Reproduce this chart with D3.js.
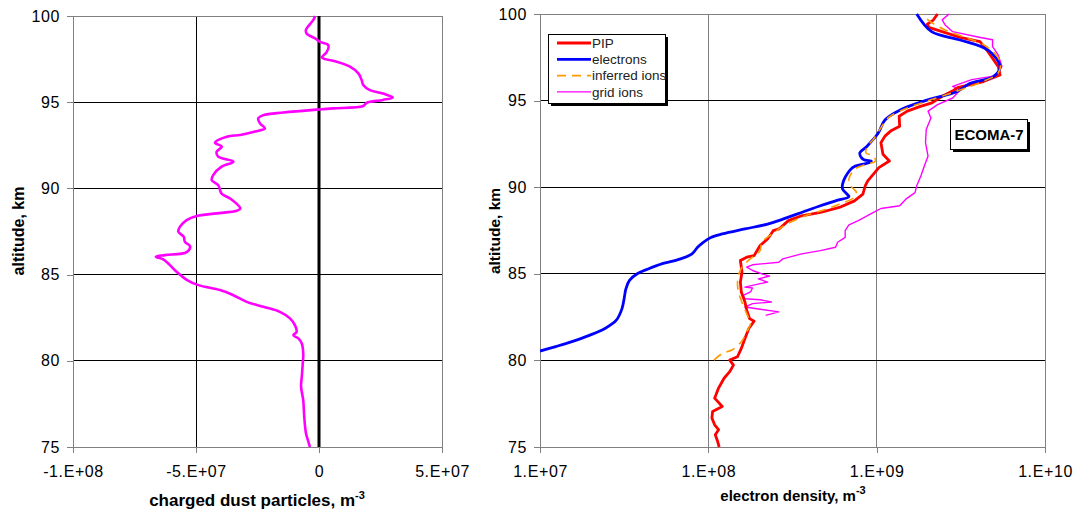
<!DOCTYPE html>
<html><head><meta charset="utf-8">
<script src="https://cdn.jsdelivr.net/npm/d3@7/dist/d3.min.js"></script>
<style>
html,body{margin:0;padding:0;background:#fff;}
svg{display:block;font-family:"Liberation Sans",Arial,sans-serif;}
</style></head>
<body><svg id="c" width="1073" height="513"></svg>
<script>
// ---------- DATA ----------
// Left panel: charged dust particles [altitude km, density m^-3]
const dust = [[100,-0.16e7],[99.77,-0.23e7],[99.2,-0.53e7],[98.97,-0.5e7],[98.7,-0.16e7],[98.5,0.04e7],[98.3,0.38e7],[97.9,0.31e7],[97.6,0.11e7],[97.5,0.25e7],[97.35,0.72e7],[97.06,1.26e7],[96.67,1.6e7],[96.3,1.73e7],[96.0,1.8e7],[95.7,2.07e7],[95.5,2.6e7],[95.28,3.0e7],[95.13,2.6e7],[94.97,1.94e7],[94.78,1.8e7],[94.64,0.58e7],[94.58,0],[94.4,-1.45e7],[94.25,-2.26e7],[94.06,-2.47e7],[93.77,-2.4e7],[93.48,-2.2e7],[93.3,-2.6e7],[93.1,-3.2e7],[93.0,-3.75e7],[92.65,-4.23e7],[92.42,-3.95e7],[92.13,-4.16e7],[91.84,-4.1e7],[91.55,-3.48e7],[91.26,-3.96e7],[90.77,-4.3e7],[90.48,-4.36e7],[90.2,-4.1e7],[89.7,-3.96e7],[89.4,-3.6e7],[88.84,-3.2e7],[88.7,-3.35e7],[88.55,-4.16e7],[88.4,-4.97e7],[88.16,-5.38e7],[87.78,-5.65e7],[87.49,-5.72e7],[87.2,-5.5e7],[86.9,-5.45e7],[86.65,-5.24e7],[86.3,-5.38e7],[86.13,-6.26e7],[86.04,-6.63e7],[85.88,-6.33e7],[85.55,-6.06e7],[85.16,-5.79e7],[84.7,-5.38e7],[84.39,-4.9e7],[84.1,-4.02e7],[83.8,-3.48e7],[83.42,-2.94e7],[83.13,-2.26e7],[82.84,-1.59e7],[82.46,-1.18e7],[82.07,-0.98e7],[81.68,-0.91e7],[81.49,-1.04e7],[81.3,-0.84e7],[81.0,-0.7e7],[80.4,-0.64e7],[79.85,-0.66e7],[79.07,-0.7e7],[78.5,-0.73e7],[77.7,-0.64e7],[76.75,-0.6e7],[75.8,-0.53e7],[75.3,-0.43e7],[75.0,-0.37e7]];

// Right panel: [altitude km, density m^-3]
const pip = [[75,1.16e8],[75.33,1.135e8],[75.71,1.10e8],[76.0,1.15e8],[76.28,1.09e8],[76.67,1.05e8],[77.05,1.06e8],[77.34,1.21e8],[77.82,1.09e8],[78.4,1.15e8],[78.97,1.24e8],[79.35,1.34e8],[79.73,1.41e8],[80.02,1.34e8],[80.21,1.49e8],[80.69,1.57e8],[81.26,1.65e8],[81.84,1.74e8],[82.26,1.87e8],[82.41,1.76e8],[82.89,1.69e8],[83.37,1.65e8],[83.95,1.57e8],[84.52,1.55e8],[85.1,1.585e8],[85.77,1.55e8],[85.96,1.69e8],[86.05,1.87e8],[86.63,2.03e8],[87.01,2.25e8],[87.49,2.43e8],[87.59,2.63e8],[88.07,2.99e8],[88.35,3.58e8],[88.54,4.63e8],[88.83,6.0e8],[89.21,7.38e8],[89.6,8.28e8],[90.08,8.55e8],[90.36,8.85e8],[90.75,9.57e8],[91.13,1.03e9],[91.51,1.19e9],[91.9,1.09e9],[92.57,1.06e9],[92.95,1.12e9],[93.24,1.21e9],[93.52,1.37e9],[94.1,1.36e9],[94.39,1.52e9],[94.67,1.82e9],[94.87,2.13e9],[95.25,2.45e9],[95.55,2.82e9],[95.75,3.02e9],[96.1,4.31e9],[96.48,5.41e9],[96.96,5.28e9],[97.92,4.51e9],[98.4,4.11e9],[98.65,3.13e9],[99.23,2.04e9],[99.42,2.0e9],[99.65,2.17e9],[100,2.30e9]];

const electrons = [[80.54,1.0e7],[80.8,1.24e7],[81.07,1.53e7],[81.46,1.98e7],[81.84,2.43e7],[82.32,2.84e7],[82.99,3.07e7],[83.56,3.16e7],[84.14,3.24e7],[84.62,3.40e7],[85.0,3.78e7],[85.29,4.42e7],[85.57,5.28e7],[85.86,6.84e7],[86.15,8.0e7],[86.53,8.63e7],[86.82,9.33e7],[87.1,1.035e8],[87.3,1.21e8],[87.59,1.65e8],[87.87,2.25e8],[88.16,2.77e8],[88.54,3.58e8],[88.93,4.63e8],[89.21,5.70e8],[89.46,6.84e8],[89.6,6.67e8],[89.89,6.27e8],[90.17,6.27e8],[90.56,6.49e8],[91.13,7.19e8],[91.32,8.18e8],[91.42,9.08e8],[91.5,9.3e8],[91.6,8.32e8],[91.97,7.94e8],[92.34,8.71e8],[93.11,1.02e9],[93.88,1.12e9],[94.46,1.38e9],[95.03,1.99e9],[95.51,2.99e9],[96.0,3.59e9],[96.38,4.93e9],[96.96,5.41e9],[97.9,4.61e9],[98.5,3.13e9],[98.98,2.12e9],[100,1.73e9]];

const inferredIons = [[80.02,1.08e8],[80.4,1.21e8],[80.6,1.38e8],[81.07,1.57e8],[81.65,1.69e8],[82.13,1.78e8],[82.7,1.69e8],[83.18,1.61e8],[83.85,1.52e8],[84.43,1.49e8],[85.0,1.52e8],[85.48,1.61e8],[85.96,1.83e8],[86.34,2.03e8],[86.82,2.08e8],[87.2,2.31e8],[87.59,2.63e8],[87.97,3.07e8],[88.35,3.77e8],[88.7,4.89e8],[89.02,6.0e8],[89.41,7.38e8],[89.69,7.59e8],[90.08,7.01e8],[90.46,6.84e8],[91.03,7.38e8],[91.32,8.63e8],[91.51,9.82e8],[91.8,9.55e8],[91.99,8.63e8],[92.38,8.85e8],[92.76,9.55e8],[93.43,1.06e9],[94.0,1.17e9],[94.39,1.37e9],[94.96,1.97e9],[95.54,2.99e9],[96.02,4.06e9],[96.59,5.27e9],[97.26,5.41e9],[98.12,4.51e9],[98.6,3.48e9],[99.08,2.55e9],[99.56,2.08e9],[99.85,1.92e9],[100,1.87e9]];

const gridIons = [[82.6,2.19e8],[82.8,2.62e8],[82.95,2.03e8],[83.08,1.65e8],[83.28,1.83e8],[83.37,2.37e8],[83.5,2.03e8],[83.56,1.65e8],[83.75,1.61e8],[83.95,1.78e8],[84.18,1.83e8],[84.23,1.65e8],[84.43,2.03e8],[84.52,2.25e8],[84.71,1.98e8],[84.87,2.31e8],[85.0,2.08e8],[85.19,1.83e8],[85.38,1.69e8],[85.52,1.83e8],[85.67,2.62e8],[85.86,2.77e8],[86.15,3.58e8],[86.34,4.63e8],[86.53,5.70e8],[86.82,5.86e8],[87.1,6.50e8],[87.49,6.50e8],[87.82,6.84e8],[88.07,7.78e8],[88.54,9.57e8],[88.77,1.06e9],[88.93,1.37e9],[89.31,1.49e9],[89.69,1.69e9],[90.08,1.73e9],[90.65,1.83e9],[91.23,1.92e9],[91.8,2.02e9],[92.57,1.95e9],[93.33,1.97e9],[94.0,2.10e9],[94.39,2.02e9],[94.77,2.30e9],[95.15,2.83e9],[95.63,3.14e9],[95.82,2.83e9],[96.21,3.67e9],[96.44,5.14e9],[96.97,5.55e9],[97.64,5.27e9],[98.12,4.88e9],[98.51,4.88e9],[98.66,4.06e9],[98.98,2.83e9],[99.37,2.55e9],[99.66,2.45e9],[100,2.69e9]];

const altTicks = [75, 80, 85, 90, 95, 100];
const dustTicks = [-1e8, -5e7, 0, 5e7];
const dustTickLabels = ["-1.E+08", "-5.E+07", "0", "5.E+07"];
const densTicks = [1e7, 1e8, 1e9, 1e10];
const densTickLabels = ["1.E+07", "1.E+08", "1.E+09", "1.E+10"];
const legendNames = ["PIP", "electrons", "inferred ions", "grid ions"];

// ---------- DRAW ----------
const svg = d3.select("#c");
const FONT = "16px";

function panel(opts) {
  const g = svg.append("g");
  const {x, y} = opts;
  const [xa, xb] = x.range(), [yb, ya] = y.range();
  g.selectAll(null).data(opts.xTicks.slice(1, -1)).join("line")
    .attr("x1", d => x(d)).attr("x2", d => x(d)).attr("y1", ya).attr("y2", yb)
    .attr("stroke", opts.vgrid).attr("stroke-width", 1).attr("shape-rendering", "crispEdges");
  g.selectAll(null).data(altTicks.slice(1, -1)).join("line")
    .attr("x1", xa).attr("x2", xb).attr("y1", d => y(d)).attr("y2", d => y(d))
    .attr("stroke", "#000").attr("stroke-width", 1).attr("shape-rendering", "crispEdges");
  g.append("rect").attr("x", xa).attr("y", ya).attr("width", xb - xa).attr("height", yb - ya)
    .attr("fill", "none").attr("stroke", "#808080").attr("stroke-width", 1).attr("shape-rendering", "crispEdges");
  const ax = g.append("g").attr("transform", `translate(0,${yb})`)
    .call(d3.axisBottom(x).tickValues(opts.xTicks).tickFormat((d, i) => opts.xLabels[i]).tickSize(6).tickPadding(13));
  const ay = g.append("g").attr("transform", `translate(${xa},0)`)
    .call(d3.axisLeft(y).tickValues(altTicks).tickFormat(d3.format("d")).tickSize(6).tickPadding(6));
  [ax, ay].forEach(a => {
    a.select(".domain").remove();
    a.selectAll(".tick line").attr("stroke", "#808080").attr("shape-rendering", "crispEdges");
    a.selectAll(".tick text").attr("font-size", FONT).attr("fill", "#000")
      .attr("font-family", "'Liberation Sans',Arial,sans-serif").attr("letter-spacing", "0.6px");
  });
  ay.selectAll(".tick text").attr("dx", "-1");
  return g;
}

// Left panel
const xL = d3.scaleLinear().domain([-1e8, 5e7]).range([73, 442]);
const yL = d3.scaleLinear().domain([75, 100]).range([447, 16]);
const gL = panel({x: xL, y: yL, xTicks: dustTicks, xLabels: dustTickLabels, vgrid: "#000"});
gL.append("line").attr("x1", xL(0)).attr("x2", xL(0)).attr("y1", yL(100)).attr("y2", yL(75))
  .attr("stroke", "#000").attr("stroke-width", 3);
const lineL = d3.line().x(d => xL(d[1])).y(d => yL(d[0])).curve(d3.curveCatmullRom.alpha(0.5));
gL.append("path").datum(dust).attr("d", lineL).attr("fill", "none")
  .attr("stroke", "#FF00FF").attr("stroke-width", 2.6).attr("stroke-linejoin", "round");

// Right panel
const xR = d3.scaleLog().domain([1e7, 1e10]).range([540, 1045]);
const yR = d3.scaleLinear().domain([75, 100]).range([447, 14]);
const gR = panel({x: xR, y: yR, xTicks: densTicks, xLabels: densTickLabels, vgrid: "#808080"});
const lineLin = d3.line().x(d => xR(d[1])).y(d => yR(d[0]));
const lineSmooth = d3.line().x(d => xR(d[1])).y(d => yR(d[0])).curve(d3.curveCatmullRom.alpha(0.5));
const series = [
  {data: gridIons, color: "#FF00FF", w: 1.4, dash: null, gen: lineLin},
  {data: pip, color: "#FF0000", w: 2.8, dash: null, gen: lineLin},
  {data: electrons, color: "#0000FF", w: 2.8, dash: null, gen: lineSmooth},
  {data: inferredIons, color: "#FF9900", w: 1.6, dash: "9,6", gen: lineSmooth}
];
svg.append("clipPath").attr("id", "clipR").append("rect")
  .attr("x", 540).attr("y", 10).attr("width", 510).attr("height", 440);
series.forEach(s => {
  gR.append("path").datum(s.data).attr("d", s.gen).attr("fill", "none")
    .attr("clip-path", "url(#clipR)")
    .attr("stroke", s.color).attr("stroke-width", s.w).attr("stroke-linejoin", "round")
    .attr("stroke-dasharray", s.dash);
});

// Legend
const legColors = ["#FF0000", "#0000FF", "#FF9900", "#FF00FF"];
const legW = [2.8, 2.8, 1.6, 1.4];
const legDash = [null, null, "9,6", null];
const lg = svg.append("g");
lg.append("rect").attr("x", 551).attr("y", 37).attr("width", 117).attr("height", 69).attr("fill", "#000");
lg.append("rect").attr("x", 548.5).attr("y", 34.5).attr("width", 117).attr("height", 69)
  .attr("fill", "#fff").attr("stroke", "#000").attr("stroke-width", 1);
legendNames.forEach((n, i) => {
  const yy = 43 + i * 16.3;
  lg.append("line").attr("x1", 557).attr("x2", 591).attr("y1", yy).attr("y2", yy)
    .attr("stroke", legColors[i]).attr("stroke-width", legW[i]).attr("stroke-dasharray", legDash[i]);
  lg.append("text").attr("x", 592).attr("y", yy).attr("dy", "0.36em")
    .attr("font-size", "13.5px").attr("fill", "#222").text(n);
});

// ECOMA-7 label
const eb = svg.append("g");
eb.append("rect").attr("x", 953).attr("y", 122).attr("width", 77).attr("height", 30).attr("fill", "#000");
eb.append("rect").attr("x", 950.5).attr("y", 119.5).attr("width", 77).attr("height", 30)
  .attr("fill", "#fff").attr("stroke", "#000").attr("stroke-width", 1);
eb.append("text").attr("x", 989).attr("y", 135).attr("dy", "0.36em").attr("text-anchor", "middle")
  .attr("font-size", "15px").attr("font-weight", "bold").text("ECOMA-7");

// Axis titles
function ytitle(x, y, size) {
  svg.append("text").attr("transform", `translate(${x},${y}) rotate(-90)`)
    .attr("text-anchor", "middle").attr("font-size", size).attr("font-weight", "bold")
    .text("altitude, km");
}
ytitle(24, 231, "16px");
ytitle(500, 231, "15.5px");
function xtitle(x, y, t, size) {
  const tx = svg.append("text").attr("x", x).attr("y", y).attr("text-anchor", "middle")
    .attr("font-size", size).attr("font-weight", "bold");
  tx.append("tspan").text(t);
  tx.append("tspan").attr("dy", "-7").attr("font-size", "11px").text("-3");
}
xtitle(257, 506, "charged dust particles, m", "17px");
xtitle(793, 501, "electron density, m", "15px");
</script></body></html>
